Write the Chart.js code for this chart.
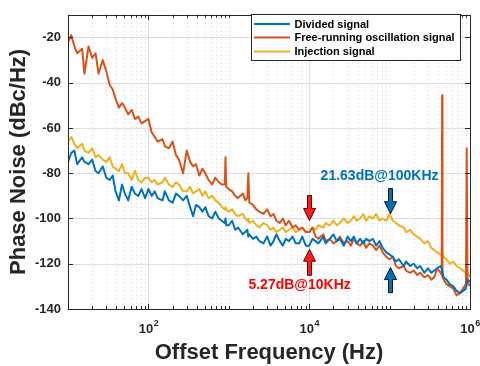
<!DOCTYPE html>
<html>
<head>
<meta charset="utf-8">
<script src="https://cdn.jsdelivr.net/npm/chart.js@4.4.1/dist/chart.umd.min.js"></script>
<style>
  html,body{margin:0;padding:0;background:#fff;}
  canvas{display:block;}
</style>
</head>
<body>
<canvas id="pn" width="480" height="366"></canvas>
<script>
// offset frequency grid (Hz)
const freqHz = [
  10,11,12,13,15,16,18,20,22,24,27,30,33,36,39,43,47,51,56,62,68,75,82,91,
  100,110,120,130,150,160,180,200,220,240,270,300,330,360,390,430,470,510,560,620,680,750,820,890,910,930,
  1000,1100,1200,1300,1500,1600,1700,1750,1800,2000,2200,2400,2700,3000,3300,3600,3900,4300,4700,5100,5600,6200,6800,7500,8200,9100,
  1e4,1.1e4,1.2e4,1.3e4,1.5e4,1.6e4,1.8e4,2e4,2.2e4,2.4e4,2.7e4,3e4,3.3e4,3.6e4,3.9e4,4.3e4,4.7e4,5.1e4,5.6e4,6.2e4,6.8e4,7.5e4,8.2e4,9.1e4,
  1e5,1.1e5,1.2e5,1.3e5,1.5e5,1.6e5,1.8e5,2e5,2.2e5,2.4e5,2.7e5,3e5,3.3e5,3.6e5,3.9e5,4.3e5,4.45e5,4.5e5,4.55e5,4.7e5,5.1e5,5.6e5,6.2e5,6.8e5,7.5e5,8.2e5,8.9e5,9.1e5,9.3e5,1e6
];

// phase noise (dBc/Hz)
const dividedDb = [
  -75,-71,-70,-76,-73,-75,-76,-74,-79,-80,-77,-82,-83,-81,-88,-92,-85,-89,-92,-86,-89,-90,-87,-91,
  -87,-90,-88,-91,-92,-88,-92,-93,-89,-90,-92,-90,-95,-99,-94,-95,-97,-95,-99,-100,-97,-100,-101,-102,-100,-103,
  -103,-101,-105,-104,-107,-106,-105,-108,-107,-109,-108,-110,-111,-108,-112,-110,-107,-110,-112,-109,-110,-108,-111,-111,-108,-112,
  -112,-109,-110,-111,-108,-111,-109,-107,-110,-109,-112,-108,-110,-108,-111,-109,-111,-109,-110,-109,-112,-110,-113,-115,
  -116,-117,-119,-118,-121,-119,-121,-120,-122,-121,-124,-122,-124,-123,-122,-121,-122,-123,-124,-126,-127,-129,-130,-132,-133,-132,-131,-129,-127,-128
];
const freeRunDb = [
  -22,-19,-24,-27,-25,-36,-24,-29,-27,-36,-30,-35,-41,-43,-47,-51,-49,-51,-54,-52,-56,-55,-58,-57,
  -56,-62,-64,-66,-65,-68,-69,-66,-72,-74,-80,-70,-75,-77,-76,-81,-78,-80,-83,-85,-82,-84,-85,-85,-73,-86,
  -87,-88,-90,-91,-89,-92,-91,-80,-93,-94,-96,-97,-98,-96,-99,-98,-101,-102,-100,-103,-101,-104,-103,-105,-104,-106,
  -106,-104,-108,-109,-107,-110,-109,-111,-110,-108,-111,-110,-112,-109,-111,-112,-110,-113,-111,-112,-114,-112,-115,-117,
  -118,-117,-121,-122,-121,-123,-124,-123,-125,-124,-126,-125,-127,-126,-122,-124,-125,-45.5,-126,-127,-129,-130,-131,-134,-133,-131,-129,-69,-128,-130
];
const injectionDb = [
  -66,-64,-67,-69,-67,-70,-71,-69,-73,-72,-74,-75,-73,-77,-78,-79,-76,-80,-80,-83,-79,-83,-84,-82,
  -82,-84,-83,-85,-84,-82,-85,-86,-84,-85,-88,-88,-86,-89,-88,-87,-90,-88,-91,-90,-92,-93,-95,-96,-95,-96,
  -97,-96,-98,-99,-98,-100,-101,-100,-102,-101,-103,-104,-102,-103,-105,-104,-106,-105,-104,-106,-105,-104,-106,-105,-104,-106,
  -106,-104,-105,-103,-104,-102,-103,-101,-103,-102,-100,-102,-101,-99,-101,-100,-98,-101,-99,-100,-98,-101,-100,-101,
  -98,-101,-102,-103,-104,-106,-105,-107,-108,-109,-111,-110,-113,-114,-115,-116,-116,-117,-116,-117,-118,-120,-119,-121,-122,-123,-124,-125,-124,-126
];

const seriesNames = ['Divided signal','Free-running oscillation signal','Injection signal'];
const xTicks = [100, 1e4, 1e6];
const xTickExp = ['2','4','6'];
const yTicks = [-140,-120,-100,-80,-60,-40,-20];

// annotations (data coords)
const arrowNotes = [
  {f:1e4, from:-89.8, to:-100.9, fill:'#ff1a1a', edge:'#5a0000'},
  {f:1e4, from:-125.1, to:-113.6, fill:'#ff1a1a', edge:'#5a0000'},
  {f:1e5, from:-86.8, to:-97.9, fill:'#0072BD', edge:'#111'},
  {f:1e5, from:-132.8, to:-121.7, fill:'#0072BD', edge:'#111'}
];
const textNotes = [
  {text:'21.63dB@100KHz', f:7.5e4, db:-81.3, color:'#0072BD'},
  {text:'5.27dB@10KHz', f:7.6e3, db:-129.4, color:'#ff0000'}
];

const FONT = "'Liberation Sans', Arial, Helvetica, sans-serif";
const AXC = '#262626';

function pts(vals){ return freqHz.map((f,i)=>({x:f, y:vals[i]})); }

// minor positions of the log axis (not labelled)
function minorX(){
  const out=[];
  for(let d=10; d<1e6; d*=10){
    for(let k=1;k<=9;k++){
      const v=k*d;
      if(v===10 || xTicks.includes(v)) continue;
      out.push(v);
    }
  }
  return out;
}

function hline(ctx,x0,x1,y){ctx.beginPath();ctx.moveTo(x0,y);ctx.lineTo(x1,y);ctx.stroke();}
function vline(ctx,x,y0,y1){ctx.beginPath();ctx.moveTo(x,y0);ctx.lineTo(x,y1);ctx.stroke();}

function drawArrow(ctx, px, y0, y1, fill, edge){
  const dir = Math.sign(y1-y0), head=12, hw=6, sw=2;
  const yb = y1 - dir*head;
  ctx.beginPath();
  ctx.moveTo(px-sw,y0); ctx.lineTo(px+sw,y0); ctx.lineTo(px+sw,yb);
  ctx.lineTo(px+hw,yb); ctx.lineTo(px,y1); ctx.lineTo(px-hw,yb);
  ctx.lineTo(px-sw,yb); ctx.closePath();
  ctx.fillStyle=fill; ctx.fill();
  ctx.lineWidth=1; ctx.strokeStyle=edge; ctx.stroke();
}

const axesBox = {
  id:'axesBox',
  beforeDatasetsDraw(chart){
    const {ctx, chartArea:a, scales:{x,y}} = chart;
    ctx.save();
    ctx.lineWidth=1;
    // minor grid, dotted
    ctx.strokeStyle='rgba(38,38,38,0.2)';
    ctx.setLineDash([1,3]);
    minorX().forEach(v=>{ const px=Math.round(x.getPixelForValue(v))+0.5; vline(ctx,px,a.top,a.bottom); });
    // major grid
    ctx.setLineDash([]);
    ctx.strokeStyle='#dedede';
    xTicks.forEach(v=>{ const px=Math.round(x.getPixelForValue(v))+0.5; vline(ctx,px,a.top,a.bottom); });
    yTicks.forEach(v=>{ const py=Math.round(y.getPixelForValue(v))+0.5; hline(ctx,a.left,a.right,py); });
    ctx.restore();
  },
  afterDatasetsDraw(chart){
    const {ctx, chartArea:a, scales:{x,y}} = chart;
    ctx.save();
    // frame
    ctx.strokeStyle=AXC; ctx.lineWidth=1;
    ctx.strokeRect(Math.round(a.left)+0.5, Math.round(a.top)+0.5, Math.round(a.right-a.left), Math.round(a.bottom-a.top));
    // inner ticks
    minorX().forEach(v=>{ const px=Math.round(x.getPixelForValue(v))+0.5;
      vline(ctx,px,a.bottom,a.bottom-3); vline(ctx,px,a.top,a.top+3); });
    xTicks.forEach(v=>{ const px=Math.round(x.getPixelForValue(v))+0.5;
      vline(ctx,px,a.bottom,a.bottom-5); vline(ctx,px,a.top,a.top+5); });
    yTicks.forEach(v=>{ const py=Math.round(y.getPixelForValue(v))+0.5;
      hline(ctx,a.left,a.left+5,py); hline(ctx,a.right-5,a.right,py); });

    // x tick labels 10^n
    ctx.fillStyle=AXC; ctx.textBaseline='alphabetic'; ctx.textAlign='left';
    xTicks.forEach((v,i)=>{
      const px=x.getPixelForValue(v);
      ctx.font='bold 13px '+FONT; const wb=ctx.measureText('10').width;
      ctx.font='bold 9px '+FONT; const ws=ctx.measureText(xTickExp[i]).width;
      const x0=px-(wb+ws)/2;
      ctx.font='bold 13px '+FONT; ctx.fillText('10',x0,333);
      ctx.font='bold 9px '+FONT; ctx.fillText(xTickExp[i],x0+wb+0.5,326);
    });

    // axis titles
    ctx.font='bold 22px '+FONT; ctx.textAlign='center';
    ctx.fillText('Offset Frequency (Hz)', (a.left+a.right)/2, 359);
    ctx.save();
    ctx.translate(25,(a.top+a.bottom)/2);
    ctx.rotate(-Math.PI/2);
    ctx.fillText('Phase Noise (dBc/Hz)',0,0);
    ctx.restore();

    // annotations
    arrowNotes.forEach(n=>{
      drawArrow(ctx, Math.round(x.getPixelForValue(n.f))+0.5, y.getPixelForValue(n.from), y.getPixelForValue(n.to), n.fill, n.edge);
    });
    ctx.font='bold 14px '+FONT; ctx.textAlign='center'; ctx.textBaseline='middle';
    textNotes.forEach(n=>{
      ctx.fillStyle=n.color;
      ctx.fillText(n.text, x.getPixelForValue(n.f), y.getPixelForValue(n.db));
    });

    // legend box
    const lx=251.5, ly=14.5, lw=209, lh=46;
    ctx.fillStyle='#fff'; ctx.fillRect(lx,ly,lw,lh);
    ctx.strokeStyle=AXC; ctx.lineWidth=1; ctx.strokeRect(lx,ly,lw,lh);
    ctx.font='bold 11px '+FONT; ctx.textAlign='left'; ctx.textBaseline='middle';
    const rows=[24,37.5,51.5];
    chart.data.datasets.forEach((ds,i)=>{
      ctx.strokeStyle=ds.borderColor; ctx.lineWidth=2;
      hline(ctx,254,290,rows[i]);
      ctx.fillStyle='#000';
      ctx.fillText(ds.label,294.5,rows[i]+0.5);
    });
    ctx.restore();
  }
};

new Chart(document.getElementById('pn'), {
  type:'line',
  data:{
    datasets:[
      {label:seriesNames[0], data:pts(dividedDb), borderColor:'#0072BD', order:1},
      {label:seriesNames[1], data:pts(freeRunDb), borderColor:'#D95319', order:2},
      {label:seriesNames[2], data:pts(injectionDb), borderColor:'#EDB120', order:3}
    ]
  },
  options:{
    responsive:false,
    animation:false,
    parsing:false,
    elements:{
      line:{borderWidth:2, tension:0, fill:false, borderJoinStyle:'round'},
      point:{radius:0, hoverRadius:0}
    },
    layout:{padding:{left:0, right:10, top:4, bottom:0}},
    plugins:{legend:{display:false}, tooltip:{enabled:false}},
    scales:{
      x:{
        type:'logarithmic', min:10, max:1e6,
        grid:{display:false, drawTicks:false}, border:{display:false},
        ticks:{display:false},
        afterFit(s){ s.height=57; }
      },
      y:{
        type:'linear', min:-140, max:-10,
        grid:{display:false, drawTicks:false}, border:{display:false},
        afterBuildTicks(s){ s.ticks=yTicks.map(v=>({value:v})); },
        ticks:{color:AXC, padding:7, font:{family:FONT, size:13, weight:'bold'}},
        afterFit(s){ s.width=68; }
      }
    }
  },
  plugins:[axesBox]
});
</script>
</body>
</html>
